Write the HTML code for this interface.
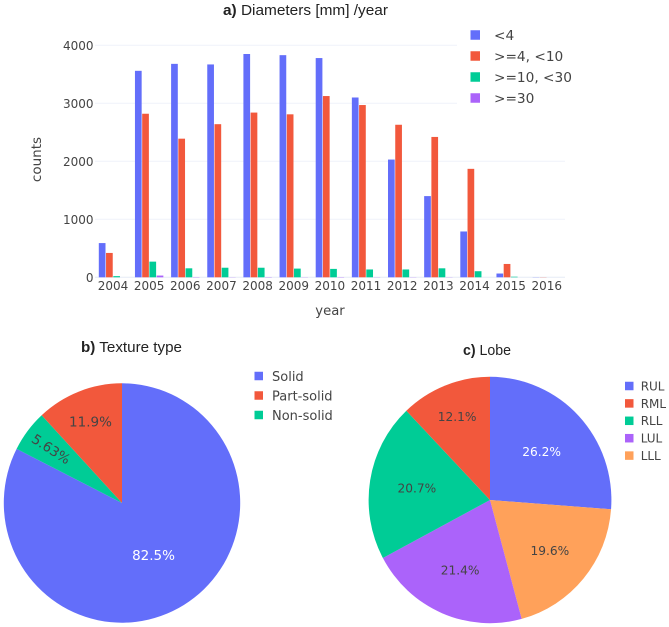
<!DOCTYPE html>
<html lang="en">
<head>
<meta charset="utf-8">
<title>Nodule charts</title>
<style>
html,body{margin:0;padding:0;background:#fff;width:669px;height:627px;overflow:hidden}
svg{display:block}
text{font-family:"DejaVu Sans","Liberation Sans",sans-serif;fill:#444}
.title{font-family:"Liberation Sans",sans-serif;fill:#222;font-size:15px}
</style>
</head>
<body>
<svg id="figure" xmlns="http://www.w3.org/2000/svg" width="669" height="627" viewBox="0 0 669 627">
  <rect x="0" y="0" width="669" height="627" fill="#fff"/>
  <g id="bar-chart">
    <g id="grid"></g>
    <g id="bars"></g>
    <g id="xticks"></g>
    <g id="yticks"></g>
    <text class="title" x="223" y="15" textLength="165" lengthAdjust="spacingAndGlyphs"><tspan font-weight="bold">a)</tspan> Diameters [mm] /year</text>
    <text x="330" y="315" text-anchor="middle" font-size="13.2">year</text>
    <text transform="translate(41,159.5) rotate(-90)" text-anchor="middle" font-size="13.5">counts</text>
    <rect x="457" y="22" width="125" height="88" fill="#fff"/>
    <g id="legend-a"></g>
  </g>
  <g id="pie-b">
    <text class="title" x="81" y="352" textLength="101" lengthAdjust="spacingAndGlyphs"><tspan font-weight="bold">b)</tspan> Texture type</text>
  </g>
  <g id="legend-b"></g>
  <g id="pie-c">
    <text class="title" x="463" y="355" textLength="48" lengthAdjust="spacingAndGlyphs"><tspan font-weight="bold">c)</tspan> Lobe</text>
  </g>
  <g id="legend-c"></g>
</svg>
<script>
// ---- Data ----
const years = ['2004','2005','2006','2007','2008','2009','2010','2011','2012','2013','2014','2015','2016'];
const seriesNames = ['<4','>=4, <10','>=10, <30','>=30'];
const under4 = [590,3560,3680,3670,3850,3830,3780,3100,2030,1400,790,65,3];
const from4to10 = [420,2820,2390,2640,2840,2810,3125,2970,2630,2420,1870,230,3];
const from10to30 = [20,270,155,165,165,150,145,135,135,155,105,10,0];
const atLeast30 = [0,30,5,3,5,3,5,3,3,3,0,0,0];
const yTicks = [0,1000,2000,3000,4000];

const textureLabels = ['Solid','Part-solid','Non-solid'];
const textureSliceOrder = ['Solid','Non-solid','Part-solid'];
const textureValues = [82.5,5.63,11.9];

const lobeLabels = ['RUL','RML','RLL','LUL','LLL'];
const lobeSliceOrder = ['RUL','LLL','LUL','RLL','RML'];
const lobeValues = [26.2,19.6,21.4,20.7,12.1];

// ---- Style / layout ----
const COLORS = {blue:'#636efa',red:'#f2583c',green:'#00cc96',purple:'#ab63fa',orange:'#ffa15a'};
const seriesColors = [COLORS.blue,COLORS.red,COLORS.green,COLORS.purple];
const textureColors = {'Solid':COLORS.blue,'Part-solid':COLORS.red,'Non-solid':COLORS.green};
const lobeColors = {RUL:COLORS.blue,RML:COLORS.red,RLL:COLORS.green,LUL:COLORS.purple,LLL:COLORS.orange};
const NS = 'http://www.w3.org/2000/svg';
const allSeries = [under4,from4to10,from10to30,atLeast30];

function mk(tag, attrs, parent, text){
  const el = document.createElementNS(NS, tag);
  for (const k in attrs) el.setAttribute(k, attrs[k]);
  if (text !== undefined) el.textContent = text;
  parent.appendChild(el);
  return el;
}
function slug(s){ return String(s).replace(/>=/g,'gte-').replace(/</g,'lt-').replace(/[^a-zA-Z0-9]+/g,'-').replace(/-+$/,'').toLowerCase(); }

// ---- Axes ----
const plotLeft = 95, plotRight = 565, yZero = 277.3, pxPer1000 = 58;
const catStep = 36.15, firstCat = 113, barStep = 7.23, barW = 6.7;
function xScale(i){ return firstCat + i*catStep; }
function yScale(v){ return yZero - v/1000*pxPer1000; }

const gridG = document.getElementById('grid');
const yTickG = document.getElementById('yticks');
yTicks.forEach(function(t){
  const line = mk('line',{x1:plotLeft,x2:plotRight,y1:yScale(t),y2:yScale(t),stroke:t===0?'#e6ebf6':'#eff2fa','stroke-width':1},gridG);
  
  
  const label = mk('text',{x:93.5,y:yScale(t)+4.5,'text-anchor':'end','font-size':12},yTickG,String(t));
  
  
});

const xTickG = document.getElementById('xticks');
years.forEach(function(y,i){
  const label = mk('text',{x:xScale(i),y:290,'text-anchor':'middle','font-size':12},xTickG,y);
  
  
});

// ---- Bars ----
const barsG = document.getElementById('bars');
allSeries.forEach(function(series,s){
  series.forEach(function(v,i){
    const x = xScale(i) - 2*barStep + s*barStep + (barStep-barW)/2;
    const top = yScale(v);
    const r = mk('rect',{x:x,y:top,width:barW,height:Math.max(0,yZero-top),fill:seriesColors[s]},barsG);
    
    
  });
});

// ---- Legends ----
function legend(parentId, names, colors, swatchX, textX, firstY, stepY, swatch, fontSize){
  const g = document.getElementById(parentId);
  names.forEach(function(n,i){
    const cy = firstY + i*stepY;
    const r = mk('rect',{x:swatchX,y:cy-swatch/2,width:swatch,height:swatch,fill:colors[i]},g);
    
    
    const t = mk('text',{x:textX,y:cy+fontSize*0.37,'font-size':fontSize},g,n);
    
    
  });
}
legend('legend-a',seriesNames,seriesColors,470.5,494,35,21,9.5,13.7);
legend('legend-b',textureLabels,textureLabels.map(function(n){return textureColors[n];}),254.5,272,376,19.5,8.5,13);
legend('legend-c',lobeLabels,lobeLabels.map(function(n){return lobeColors[n];}),625,640.7,386,17.4,8.5,12);

// ---- Pies ----
function drawPie(opts){
  const g = document.getElementById(opts.parent);
  const total = opts.values.reduce(function(a,b){return a+b;},0);
  let acc = 0;
  opts.values.forEach(function(v,i){
    const a0 = acc/total*2*Math.PI;
    acc += v;
    const a1 = acc/total*2*Math.PI;
    const large = (a1-a0) > Math.PI ? 1 : 0;
    const px = function(a){ return opts.cx + opts.rx*Math.sin(a); };
    const py = function(a){ return opts.cy - opts.ry*Math.cos(a); };
    const d = 'M'+opts.cx+' '+opts.cy+'L'+px(a0)+' '+py(a0)+'A'+opts.rx+' '+opts.ry+' 0 '+large+' 1 '+px(a1)+' '+py(a1)+'Z';
    const name = opts.names[i];
    const p = mk('path',{d:d,fill:opts.colors[name]},g);
    
    
  });
  acc = 0;
  opts.values.forEach(function(v,i){
    const mid = (acc + v/2)/total*2*Math.PI;
    acc += v;
    const f = opts.labelRadius[i];
    const lx = opts.cx + opts.rx*f*Math.sin(mid);
    const ly = opts.cy - opts.ry*f*Math.cos(mid);
    const rot = opts.labelRotate[i];
    const attrs = {x:lx,y:ly+opts.fontSizes[i]*0.37,'text-anchor':'middle','font-size':opts.fontSizes[i]};
    if (rot) attrs.transform = 'rotate('+rot+' '+lx+' '+ly+')';
    const t = mk('text',attrs,g,v.toPrecision(3)+'%');
    t.style.fill = opts.labelColors[i];
    
    
  });
}
drawPie({parent:'pie-b',cx:122,cy:503,rx:118.2,ry:119.7,names:textureSliceOrder,values:textureValues,colors:textureColors,
  labelRadius:[0.51,0.75,0.73],labelRotate:[0,33,0],labelColors:['#fff','#444','#444'],fontSizes:[13.5,13.5,13.5]});
drawPie({parent:'pie-c',cx:490,cy:500,rx:121.4,ry:123.2,names:lobeSliceOrder,values:lobeValues,colors:lobeColors,
  labelRadius:[0.58,0.64,0.62,0.61,0.73],labelRotate:[0,0,0,0,0],labelColors:['#fff','#444','#444','#444','#444'],fontSizes:[12.2,12.2,12.2,12.2,12.2]});
</script>
</body>
</html>
